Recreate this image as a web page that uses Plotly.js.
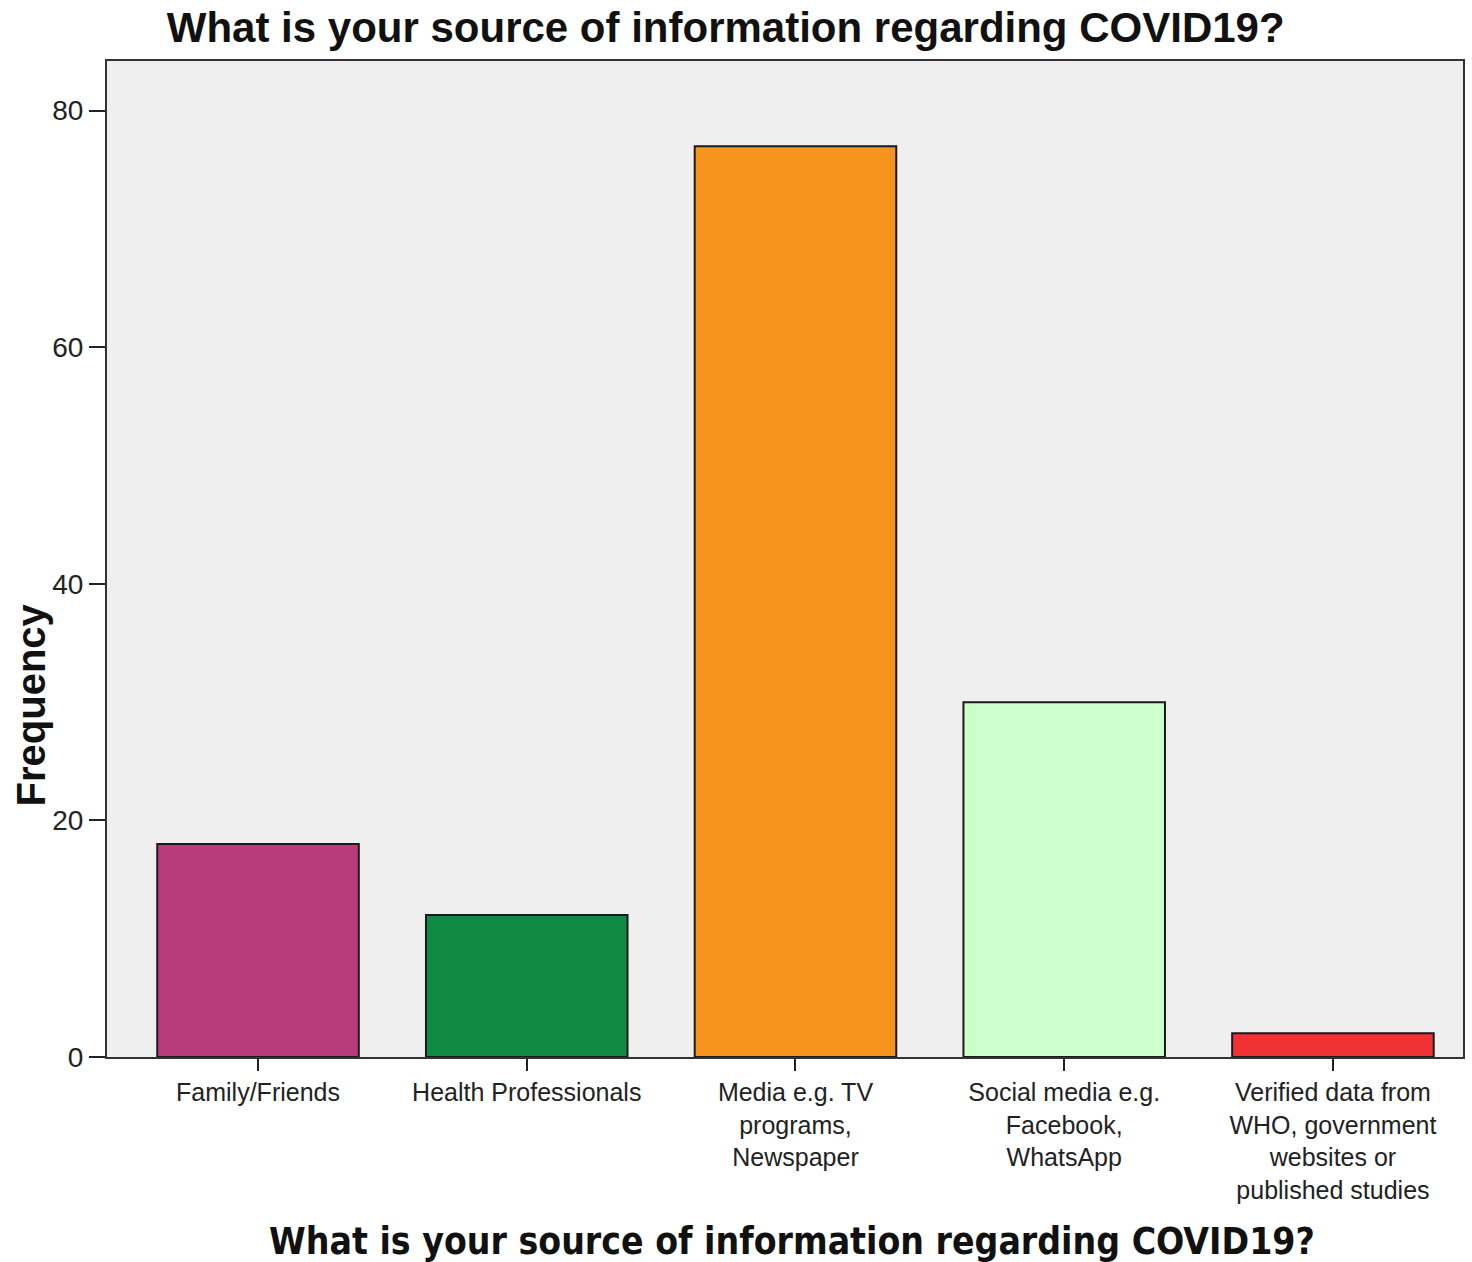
<!DOCTYPE html>
<html>
<head>
<meta charset="utf-8">
<script src="https://cdn.plot.ly/plotly-3.0.1.min.js"></script>
<style>html,body{margin:0;padding:0;background:#fff;}#chart{width:1472px;height:1262px;}</style>
</head>
<body>
<div id="chart"></div>
<script>
const categories = ["Family/Friends", "Health Professionals", "Media e.g. TV<br>programs,<br>Newspaper", "Social media e.g.<br>Facebook,<br>WhatsApp", "Verified data from<br>WHO, government<br>websites or<br>published studies"];
const frequency = [18, 12, 77, 30, 2];
const barColors = ["#B83C7C", "#0F8A44", "#F7941D", "#CCFFCC", "#F03234"];
const yTicks = [0, 20, 40, 60, 80];
const chartTitle = "What is your source of information regarding COVID19?";
const yTitle = "Frequency";

const trace = {
  type: "bar",
  x: categories.map((c, i) => i),
  y: frequency,
  width: 0.75,
  marker: {color: barColors, line: {color: "#1a1a1a", width: 2}},
  hoverinfo: "skip"
};

const layout = {
  width: 1472, height: 1262,
  margin: {l: 107, r: 9, t: 61, b: 205},
  paper_bgcolor: "#ffffff",
  plot_bgcolor: "#EFEFEF",
  showlegend: false,
  title: {text: "<b>" + chartTitle + "</b>", x: 0.493, xanchor: "center", y: 0.978, yanchor: "middle",
          font: {family: "Liberation Sans, Arial, sans-serif", size: 42, color: "#111"}},
  xaxis: {
    range: [-0.562, 4.484],
    tickmode: "array", tickvals: categories.map((c, i) => i), ticktext: categories,
    ticks: "outside", ticklen: 12, tickwidth: 2, tickcolor: "#222",
    showline: true, linecolor: "#333", linewidth: 2, mirror: true,
    showgrid: false, zeroline: false,
    tickangle: 0,
    tickfont: {family: "Liberation Sans, Arial, sans-serif", size: 25, color: "#222"}
  },
  yaxis: {
    range: [0, 84.2],
    tickmode: "array", tickvals: yTicks, ticktext: yTicks.map(String),
    ticks: "outside", ticklen: 16, tickwidth: 2, tickcolor: "#222",
    showline: true, linecolor: "#333", linewidth: 2, mirror: true,
    showgrid: false, zeroline: false,
    tickfont: {family: "Liberation Sans, Arial, sans-serif", size: 28, color: "#222"}
  },
  annotations: [
    {text: "<b>" + chartTitle + "</b>", xref: "paper", yref: "paper", x: 0.505, y: -0.185,
     xanchor: "center", yanchor: "middle", showarrow: false,
     font: {family: "DejaVu Sans Condensed, DejaVu Sans, sans-serif", size: 37, color: "#111"}},
    {text: "<b>" + yTitle + "</b>", xref: "paper", yref: "paper", x: -0.056, y: 0.353,
     xanchor: "center", yanchor: "middle", textangle: -90, showarrow: false,
     font: {family: "Liberation Sans, Arial, sans-serif", size: 40, color: "#111"}}
  ],
  bargap: 0.25
};

Plotly.newPlot("chart", [trace], layout, {displayModeBar: false, staticPlot: true});
</script>
</body>
</html>
